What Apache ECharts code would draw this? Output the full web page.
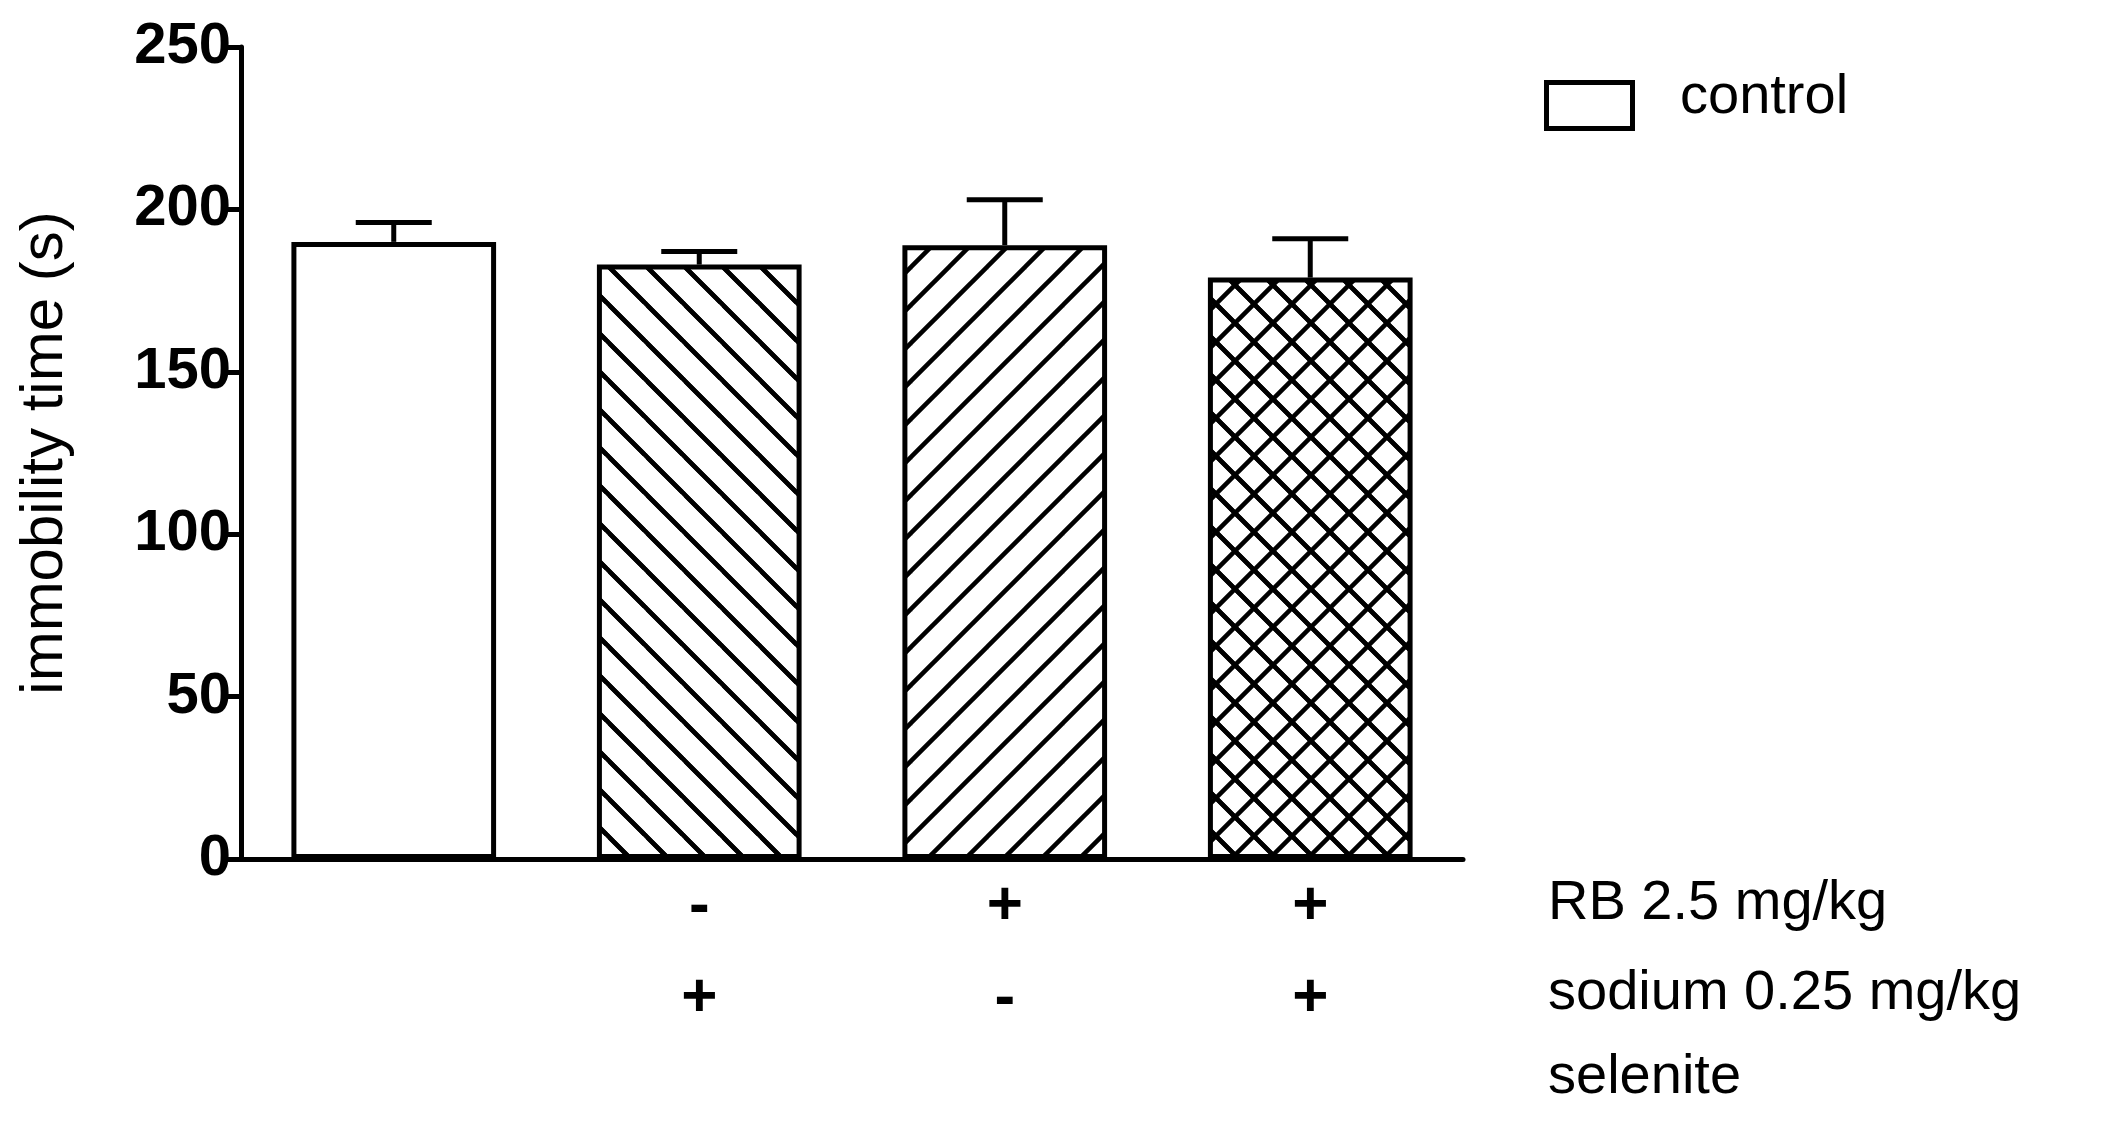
<!DOCTYPE html>
<html>
<head>
<meta charset="utf-8">
<script src="https://cdn.jsdelivr.net/npm/echarts@6/dist/echarts.min.js"></script>
<style>html,body{margin:0;padding:0;background:#fff}#chart{width:2120px;height:1124px}</style>
</head>
<body>
<div id="chart"></div>
<script>
const categories = ['', '-\n+', '+\n-', '+\n+'];
const means = [190, 183, 189, 179];
const upper = [196, 187, 203, 191];
const yTicks = [0, 50, 100, 150, 200, 250];
const patterns = ['none', 'back', 'fwd', 'cross'];

function hatch(kind) {
  const s = 38;
  const c = document.createElement('canvas');
  c.width = s; c.height = s;
  const g = c.getContext('2d');
  g.fillStyle = '#fff';
  g.fillRect(0, 0, s, s);
  g.strokeStyle = '#000';
  g.lineWidth = 4.5;
  const line = (x1, y1, x2, y2) => { g.beginPath(); g.moveTo(x1, y1); g.lineTo(x2, y2); g.stroke(); };
  if (kind === 'back' || kind === 'cross') {
    line(-s, 0, s * 2, s * 3); line(0, 0, s, s); line(-s, -s, s * 2, s * 2);
    line(0, -s, s * 2, s); line(-s, 0, s, s * 2);
  }
  if (kind === 'fwd' || kind === 'cross') {
    line(0, s, s, 0); line(-s, s, s, -s); line(0, s * 2, s * 2, 0);
  }
  return c;
}

const chart = echarts.init(document.getElementById('chart'));
chart.setOption({
  animation: false,
  grid: { left: 241, top: 47, right: 657, bottom: 265 },
  xAxis: {
    type: 'category',
    data: categories,
    axisLine: { lineStyle: { color: '#000', width: 5 } },
    axisTick: { show: false },
    axisLabel: { color: '#000', fontSize: 62, fontWeight: 'bold', fontFamily: 'Liberation Sans', lineHeight: 92, margin: 2 }
  },
  yAxis: {
    type: 'value', min: 0, max: 250, interval: 50,
    name: 'immobility time (s)', nameLocation: 'middle', nameGap: 166,
    nameTextStyle: { color: '#000', fontSize: 60, fontFamily: 'Liberation Sans' },
    axisLine: { show: true, lineStyle: { color: '#000', width: 5 } },
    axisTick: { show: true, length: 18, lineStyle: { color: '#000', width: 5 } },
    splitLine: { show: false },
    axisLabel: {
      color: '#000', fontSize: 58, fontWeight: 'bold', fontFamily: 'Liberation Sans', margin: 10,
      formatter: v => yTicks.includes(v) ? String(v) : ''
    }
  },
  series: [
    {
      type: 'bar', barWidth: '67%',
      data: means.map((v, i) => ({
        value: v,
        itemStyle: {
          color: patterns[i] === 'none' ? '#fff' : { image: hatch(patterns[i]), repeat: 'repeat' },
          borderColor: '#000', borderWidth: 5
        }
      }))
    },
    {
      type: 'custom', z: 1,
      data: means.map((v, i) => [i, v, upper[i]]),
      renderItem: (params, api) => {
        const lo = api.coord([api.value(0), api.value(1)]);
        const hi = api.coord([api.value(0), api.value(2)]);
        const w = 38;
        const st = { stroke: '#000', lineWidth: 5 };
        return { type: 'group', children: [
          { type: 'line', shape: { x1: lo[0], y1: lo[1], x2: hi[0], y2: hi[1] }, style: st },
          { type: 'line', shape: { x1: hi[0] - w, y1: hi[1], x2: hi[0] + w, y2: hi[1] }, style: st }
        ] };
      }
    }
  ],
  graphic: [
    { type: 'rect', left: 1544, top: 80, shape: { width: 86, height: 46 }, style: { fill: '#fff', stroke: '#000', lineWidth: 5 } },
    { type: 'text', left: 1680, top: 70, style: { text: 'control', fontSize: 56, fontFamily: 'Liberation Sans', fill: '#000' } },
    { type: 'text', left: 1548, top: 876, style: { text: 'RB 2.5 mg/kg', fontSize: 56, fontFamily: 'Liberation Sans', fill: '#000' } },
    { type: 'text', left: 1548, top: 966, style: { text: 'sodium 0.25 mg/kg', fontSize: 56, fontFamily: 'Liberation Sans', fill: '#000' } },
    { type: 'text', left: 1548, top: 1050, style: { text: 'selenite', fontSize: 56, fontFamily: 'Liberation Sans', fill: '#000' } }
  ]
});
</script>
</body>
</html>
